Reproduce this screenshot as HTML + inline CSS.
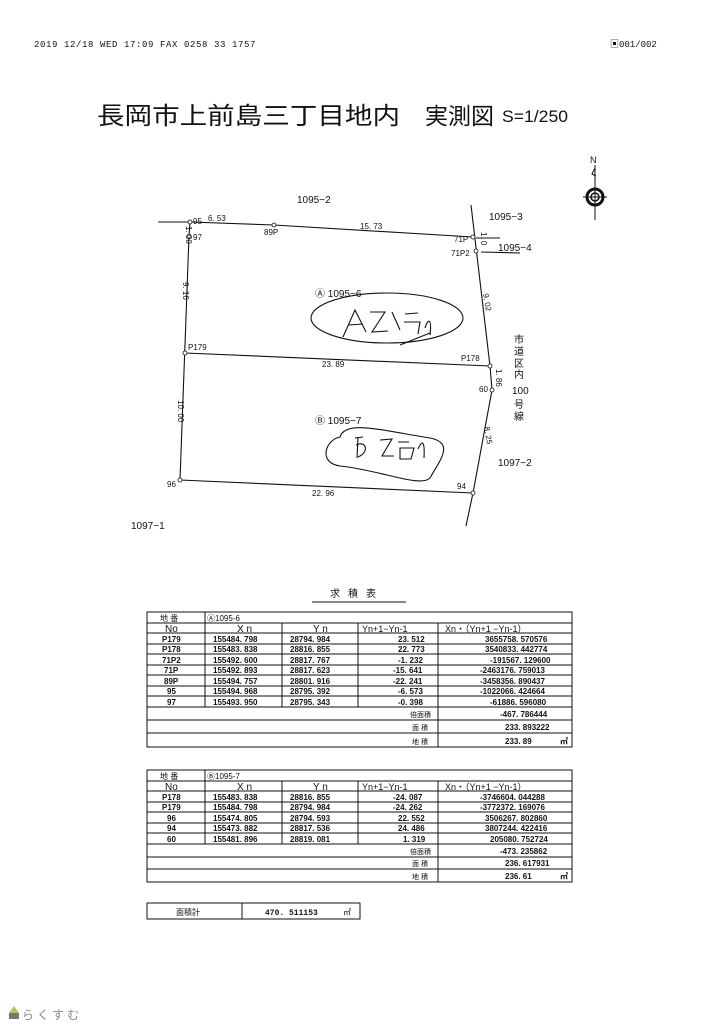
<!DOCTYPE html>
<html><head><meta charset="utf-8"><style>
html,body{margin:0;padding:0;background:#fff;}
svg{display:block;}
text{font-family:"Liberation Sans","Noto Sans CJK JP",sans-serif;fill:#111;}
.m{font-family:"Liberation Mono","Noto Sans CJK JP",monospace;font-weight:bold;}
</style></head><body>
<svg width="724" height="1024" viewBox="0 0 724 1024" xmlns="http://www.w3.org/2000/svg">
<rect width="724" height="1024" fill="#fff"/>
<text x="34" y="47" class="m" font-size="9" letter-spacing="0.6" style="font-weight:normal">2019 12/18 WED 17:09  FAX 0258 33 1757</text>
<text x="610" y="47" class="m" font-size="9" style="font-weight:normal">&#9635;001/002</text>
<text x="97" y="124" font-size="24" font-family="Noto Sans CJK JP,sans-serif" textLength="303" lengthAdjust="spacingAndGlyphs">長岡市上前島三丁目地内</text>
<text x="425" y="124" font-size="23" font-family="Noto Sans CJK JP,sans-serif">実測図</text>
<text x="502" y="122" font-size="17" textLength="66" lengthAdjust="spacingAndGlyphs">S=1/250</text>
<text x="590" y="163" font-size="9">N</text>
<line x1="595" y1="165" x2="595" y2="220" stroke="#111" stroke-width="1"/>
<path d="M595,168 L592,174 L596,176" fill="none" stroke="#111"/>
<circle cx="595" cy="197" r="8" fill="none" stroke="#111" stroke-width="3"/>
<circle cx="595" cy="197" r="4" fill="none" stroke="#111" stroke-width="1.5"/>
<line x1="583" y1="197" x2="607" y2="197" stroke="#111"/>
<g stroke="#111" stroke-width="1.1" fill="none">
<polyline points="158,222 190,222 274,225 473,237"/>
<line x1="471" y1="205" x2="490" y2="366"/>
<line x1="490" y1="366" x2="492" y2="390"/>
<line x1="492" y1="390" x2="473" y2="493"/>
<line x1="473" y1="493" x2="466" y2="526"/>
<line x1="190" y1="222" x2="189" y2="236"/>
<line x1="189" y1="236" x2="180" y2="480"/>
<line x1="185" y1="353" x2="490" y2="366"/>
<line x1="180" y1="480" x2="473" y2="493"/>
<line x1="476" y1="238" x2="500" y2="238"/>
<line x1="481" y1="252" x2="520" y2="253"/>
<ellipse cx="387" cy="318" rx="76" ry="25"/>
<path d="M340,437 C345,420 380,430 430,438 C455,443 440,460 430,478 C420,488 380,470 340,466 C318,463 325,440 340,437 Z"/>
<path d="M343,337 L355,310 L366,332 M348,325 L363,324 M370,312 L385,312 L372,332 L388,331 M392,312 L400,330 M405,314 L418,313 M404,322 L420,322 L418,334 M425,328 C428,318 432,318 430,335 M400,345 L430,333"/>
<path d="M355,438 L363,437 M358,437 L357,458 M356,445 C366,440 370,452 358,457 M380,440 L392,439 L382,456 L394,456 M398,442 L409,442 M400,448 L414,448 L411,459 L400,459 Z M418,449 C422,440 425,440 424,458"/>
</g>
<g fill="#fff" stroke="#111" stroke-width="0.8">
<circle cx="190" cy="222" r="2"/><circle cx="189" cy="236" r="2"/><circle cx="274" cy="225" r="2"/>
<circle cx="473" cy="237" r="2"/><circle cx="476" cy="251" r="2"/><circle cx="185" cy="353" r="2"/>
<circle cx="490" cy="366" r="2"/><circle cx="492" cy="390" r="2"/><circle cx="180" cy="480" r="2"/><circle cx="473" cy="493" r="2"/>
</g>
<g font-size="8">
<text x="193" y="224">95</text><text x="193" y="240">97</text>
<text x="264" y="235">89P</text>
<text x="454" y="242">71P</text><text x="451" y="256">71P2</text>
<text x="188" y="350">P179</text><text x="461" y="361">P178</text>
<text x="479" y="392">60</text><text x="167" y="487">96</text><text x="457" y="489">94</text>
<text x="208" y="221">6. 53</text><text x="360" y="229">15. 73</text>
<text x="322" y="367">23. 89</text><text x="312" y="496">22. 96</text>
</g>
<g font-size="8">
<text transform="translate(186,226) rotate(90)">1. 00</text>
<text transform="translate(183,282) rotate(90)">9. 16</text>
<text transform="translate(178,400) rotate(90)">10. 00</text>
<text transform="translate(483,294) rotate(80)">9. 02</text>
<text transform="translate(496,369) rotate(90)">1. 86</text>
<text transform="translate(484,427) rotate(80)">8. 25</text>
<text transform="translate(481,232) rotate(90)">1. 0</text>
</g>
<g font-size="10">
<text x="297" y="203">1095−2</text>
<text x="489" y="220">1095−3</text>
<text x="498" y="251">1095−4</text>
<text x="498" y="466">1097−2</text>
<text x="131" y="529">1097−1</text>
<text x="315" y="297">Ⓐ 1095−6</text>
<text x="315" y="424">Ⓑ 1095−7</text>
</g>
<g font-size="10" font-family="Noto Sans CJK JP,sans-serif">
<text x="514" y="343">市</text><text x="514" y="355">道</text><text x="514" y="367">区</text><text x="514" y="378">内</text>
<text x="512" y="394">100</text><text x="514" y="408">号</text><text x="514" y="420">線</text>
</g>
<text x="330" y="597" font-size="10" font-family="Noto Sans CJK JP,sans-serif" letter-spacing="8">求積表</text>
<line x1="312" y1="602" x2="406" y2="602" stroke="#111"/>
<g stroke="#111" stroke-width="1" fill="none">
<rect x="147" y="612" width="425" height="135"/>
<line x1="147" y1="623" x2="572" y2="623"/>
<line x1="147" y1="633" x2="572" y2="633"/>
<line x1="147" y1="644" x2="572" y2="644"/><line x1="147" y1="654" x2="572" y2="654"/>
<line x1="147" y1="665" x2="572" y2="665"/><line x1="147" y1="675" x2="572" y2="675"/>
<line x1="147" y1="686" x2="572" y2="686"/><line x1="147" y1="696" x2="572" y2="696"/>
<line x1="147" y1="707" x2="572" y2="707"/><line x1="147" y1="720" x2="572" y2="720"/>
<line x1="147" y1="733" x2="572" y2="733"/>
<line x1="205" y1="612" x2="205" y2="707"/>
<line x1="282" y1="623" x2="282" y2="707"/>
<line x1="358" y1="623" x2="358" y2="707"/>
<line x1="438" y1="623" x2="438" y2="747"/>
</g>
<g font-size="8">
<text x="160" y="621" font-family="Noto Sans CJK JP,sans-serif">地 番</text><text x="207" y="621">Ⓐ1095-6</text>
<text x="165" y="632" font-size="10">No</text><text x="237" y="632" font-size="10">X n</text><text x="313" y="632" font-size="10">Y n</text>
<text x="362" y="632" font-size="9">Yn+1−Yn-1</text><text x="445" y="632" font-size="9">Xn・（Yn+1 −Yn-1）</text>
</g>
<g font-size="8" class="m">
<text x="162" y="642">P179</text><text x="213" y="642">155484. 798</text><text x="290" y="642">28794. 984</text><text x="398" y="642">23. 512</text><text x="485" y="642">3655758. 570576</text>
<text x="162" y="652">P178</text><text x="213" y="652">155483. 838</text><text x="290" y="652">28816. 855</text><text x="398" y="652">22. 773</text><text x="485" y="652">3540833. 442774</text>
<text x="162" y="663">71P2</text><text x="213" y="663">155492. 600</text><text x="290" y="663">28817. 767</text><text x="398" y="663">-1. 232</text><text x="490" y="663">-191567. 129600</text>
<text x="164" y="673">71P</text><text x="213" y="673">155492. 893</text><text x="290" y="673">28817. 623</text><text x="393" y="673">-15. 641</text><text x="480" y="673">-2463176. 759013</text>
<text x="164" y="684">89P</text><text x="213" y="684">155494. 757</text><text x="290" y="684">28801. 916</text><text x="393" y="684">-22. 241</text><text x="480" y="684">-3458356. 890437</text>
<text x="167" y="694">95</text><text x="213" y="694">155494. 968</text><text x="290" y="694">28795. 392</text><text x="398" y="694">-6. 573</text><text x="480" y="694">-1022066. 424664</text>
<text x="167" y="705">97</text><text x="213" y="705">155493. 950</text><text x="290" y="705">28795. 343</text><text x="398" y="705">-0. 398</text><text x="490" y="705">-61886. 596080</text>
<text x="500" y="717">-467. 786444</text><text x="505" y="730">233. 893222</text><text x="505" y="744">233. 89</text><text x="560" y="744">㎡</text>
</g>
<g font-size="7" font-family="Noto Sans CJK JP,sans-serif">
<text x="410" y="717">倍面積</text><text x="412" y="730">面 積</text><text x="412" y="744">地 積</text>
</g>
<g stroke="#111" stroke-width="1" fill="none">
<rect x="147" y="770" width="425" height="112"/>
<line x1="147" y1="781" x2="572" y2="781"/>
<line x1="147" y1="791" x2="572" y2="791"/>
<line x1="147" y1="802" x2="572" y2="802"/><line x1="147" y1="812" x2="572" y2="812"/>
<line x1="147" y1="823" x2="572" y2="823"/><line x1="147" y1="833" x2="572" y2="833"/>
<line x1="147" y1="844" x2="572" y2="844"/><line x1="147" y1="857" x2="572" y2="857"/>
<line x1="147" y1="869" x2="572" y2="869"/>
<line x1="205" y1="770" x2="205" y2="844"/>
<line x1="282" y1="781" x2="282" y2="844"/>
<line x1="358" y1="781" x2="358" y2="844"/>
<line x1="438" y1="781" x2="438" y2="882"/>
</g>
<g font-size="8">
<text x="160" y="779" font-family="Noto Sans CJK JP,sans-serif">地 番</text><text x="207" y="779">Ⓑ1095-7</text>
<text x="165" y="790" font-size="10">No</text><text x="237" y="790" font-size="10">X n</text><text x="313" y="790" font-size="10">Y n</text>
<text x="362" y="790" font-size="9">Yn+1−Yn-1</text><text x="445" y="790" font-size="9">Xn・（Yn+1 −Yn-1）</text>
</g>
<g font-size="8" class="m">
<text x="162" y="800">P178</text><text x="213" y="800">155483. 838</text><text x="290" y="800">28816. 855</text><text x="393" y="800">-24. 087</text><text x="480" y="800">-3746604. 044288</text>
<text x="162" y="810">P179</text><text x="213" y="810">155484. 798</text><text x="290" y="810">28794. 984</text><text x="393" y="810">-24. 262</text><text x="480" y="810">-3772372. 169076</text>
<text x="167" y="821">96</text><text x="213" y="821">155474. 805</text><text x="290" y="821">28794. 593</text><text x="398" y="821">22. 552</text><text x="485" y="821">3506267. 802860</text>
<text x="167" y="831">94</text><text x="213" y="831">155473. 882</text><text x="290" y="831">28817. 536</text><text x="398" y="831">24. 486</text><text x="485" y="831">3807244. 422416</text>
<text x="167" y="842">60</text><text x="213" y="842">155481. 896</text><text x="290" y="842">28819. 081</text><text x="403" y="842">1. 319</text><text x="490" y="842">205080. 752724</text>
<text x="500" y="854">-473. 235862</text><text x="505" y="866">236. 617931</text><text x="505" y="879">236. 61</text><text x="560" y="879">㎡</text>
</g>
<g font-size="7" font-family="Noto Sans CJK JP,sans-serif">
<text x="410" y="854">倍面積</text><text x="412" y="866">面 積</text><text x="412" y="879">地 積</text>
</g>
<rect x="147" y="903" width="213" height="16" fill="none" stroke="#111"/>
<line x1="242" y1="903" x2="242" y2="919" stroke="#111"/>
<text x="176" y="915" font-size="8" font-family="Noto Sans CJK JP,sans-serif">面積計</text>
<text x="265" y="915" font-size="8" class="m">470. 511153</text><text x="343" y="915" font-size="8">㎡</text>
<path d="M9,1013 L14,1006 L19,1013 Z" fill="#a6c96a"/>
<rect x="9" y="1013" width="10" height="6" fill="#777"/>
<text x="22" y="1019" font-size="12" font-family="Noto Sans CJK JP,sans-serif" style="fill:#888" letter-spacing="3">らくすむ</text>
</svg>
</body></html>
